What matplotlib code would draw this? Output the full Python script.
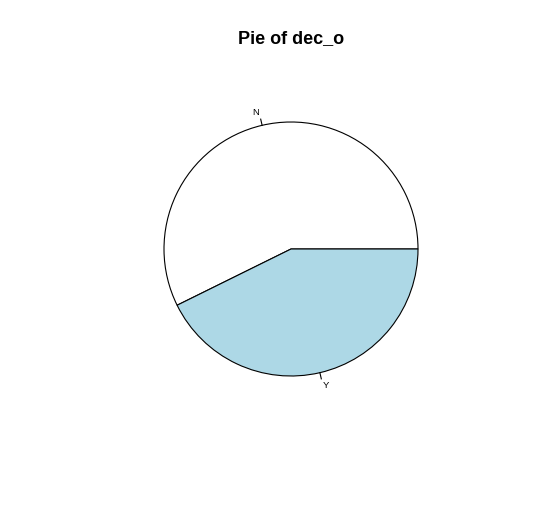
import numpy as np
import matplotlib
matplotlib.use("Agg")
import matplotlib.pyplot as plt

labels = ["N", "Y"]
values = [0.573, 0.427]
colors = ["white", "#ADD8E6"]
title = "Pie of dec_o"

W, H = 544, 519
fig = plt.figure(figsize=(W / 100, H / 100), dpi=100)
ax = fig.add_axes([0, 0, 1, 1])
ax.set_xlim(0, W)
ax.set_ylim(0, H)
ax.set_aspect("equal")
ax.axis("off")

cx, cy, r = 291, H - 249, 127
ax.pie(values, colors=colors, startangle=0, counterclock=True, center=(cx, cy),
       radius=r, wedgeprops=dict(edgecolor="black", linewidth=0.8), frame=True)
ax.set_xlim(0, W)
ax.set_ylim(0, H)
ax.axis("off")

fr = np.array(values) / np.sum(values)
cum = np.concatenate([[0], np.cumsum(fr)])
for i, lab in enumerate(labels):
    a = 2 * np.pi * (cum[i] + cum[i + 1]) / 2
    ca, sa = np.cos(a), np.sin(a)
    ax.plot([cx + r * ca, cx + 1.05 * r * ca], [cy + r * sa, cy + 1.05 * r * sa],
            color="black", lw=0.8)
    ax.text(cx + 1.1 * r * ca, cy + 1.1 * r * sa, lab, fontsize=6.8,
            family="Liberation Sans", ha="right" if ca < 0 else "left", va="center")

fig.text(291 / W, 1 - 39 / H, title, fontsize=13, fontweight="bold",
         family="Liberation Sans", ha="center", va="center")

fig.savefig("out.png", dpi=100, facecolor="white")
